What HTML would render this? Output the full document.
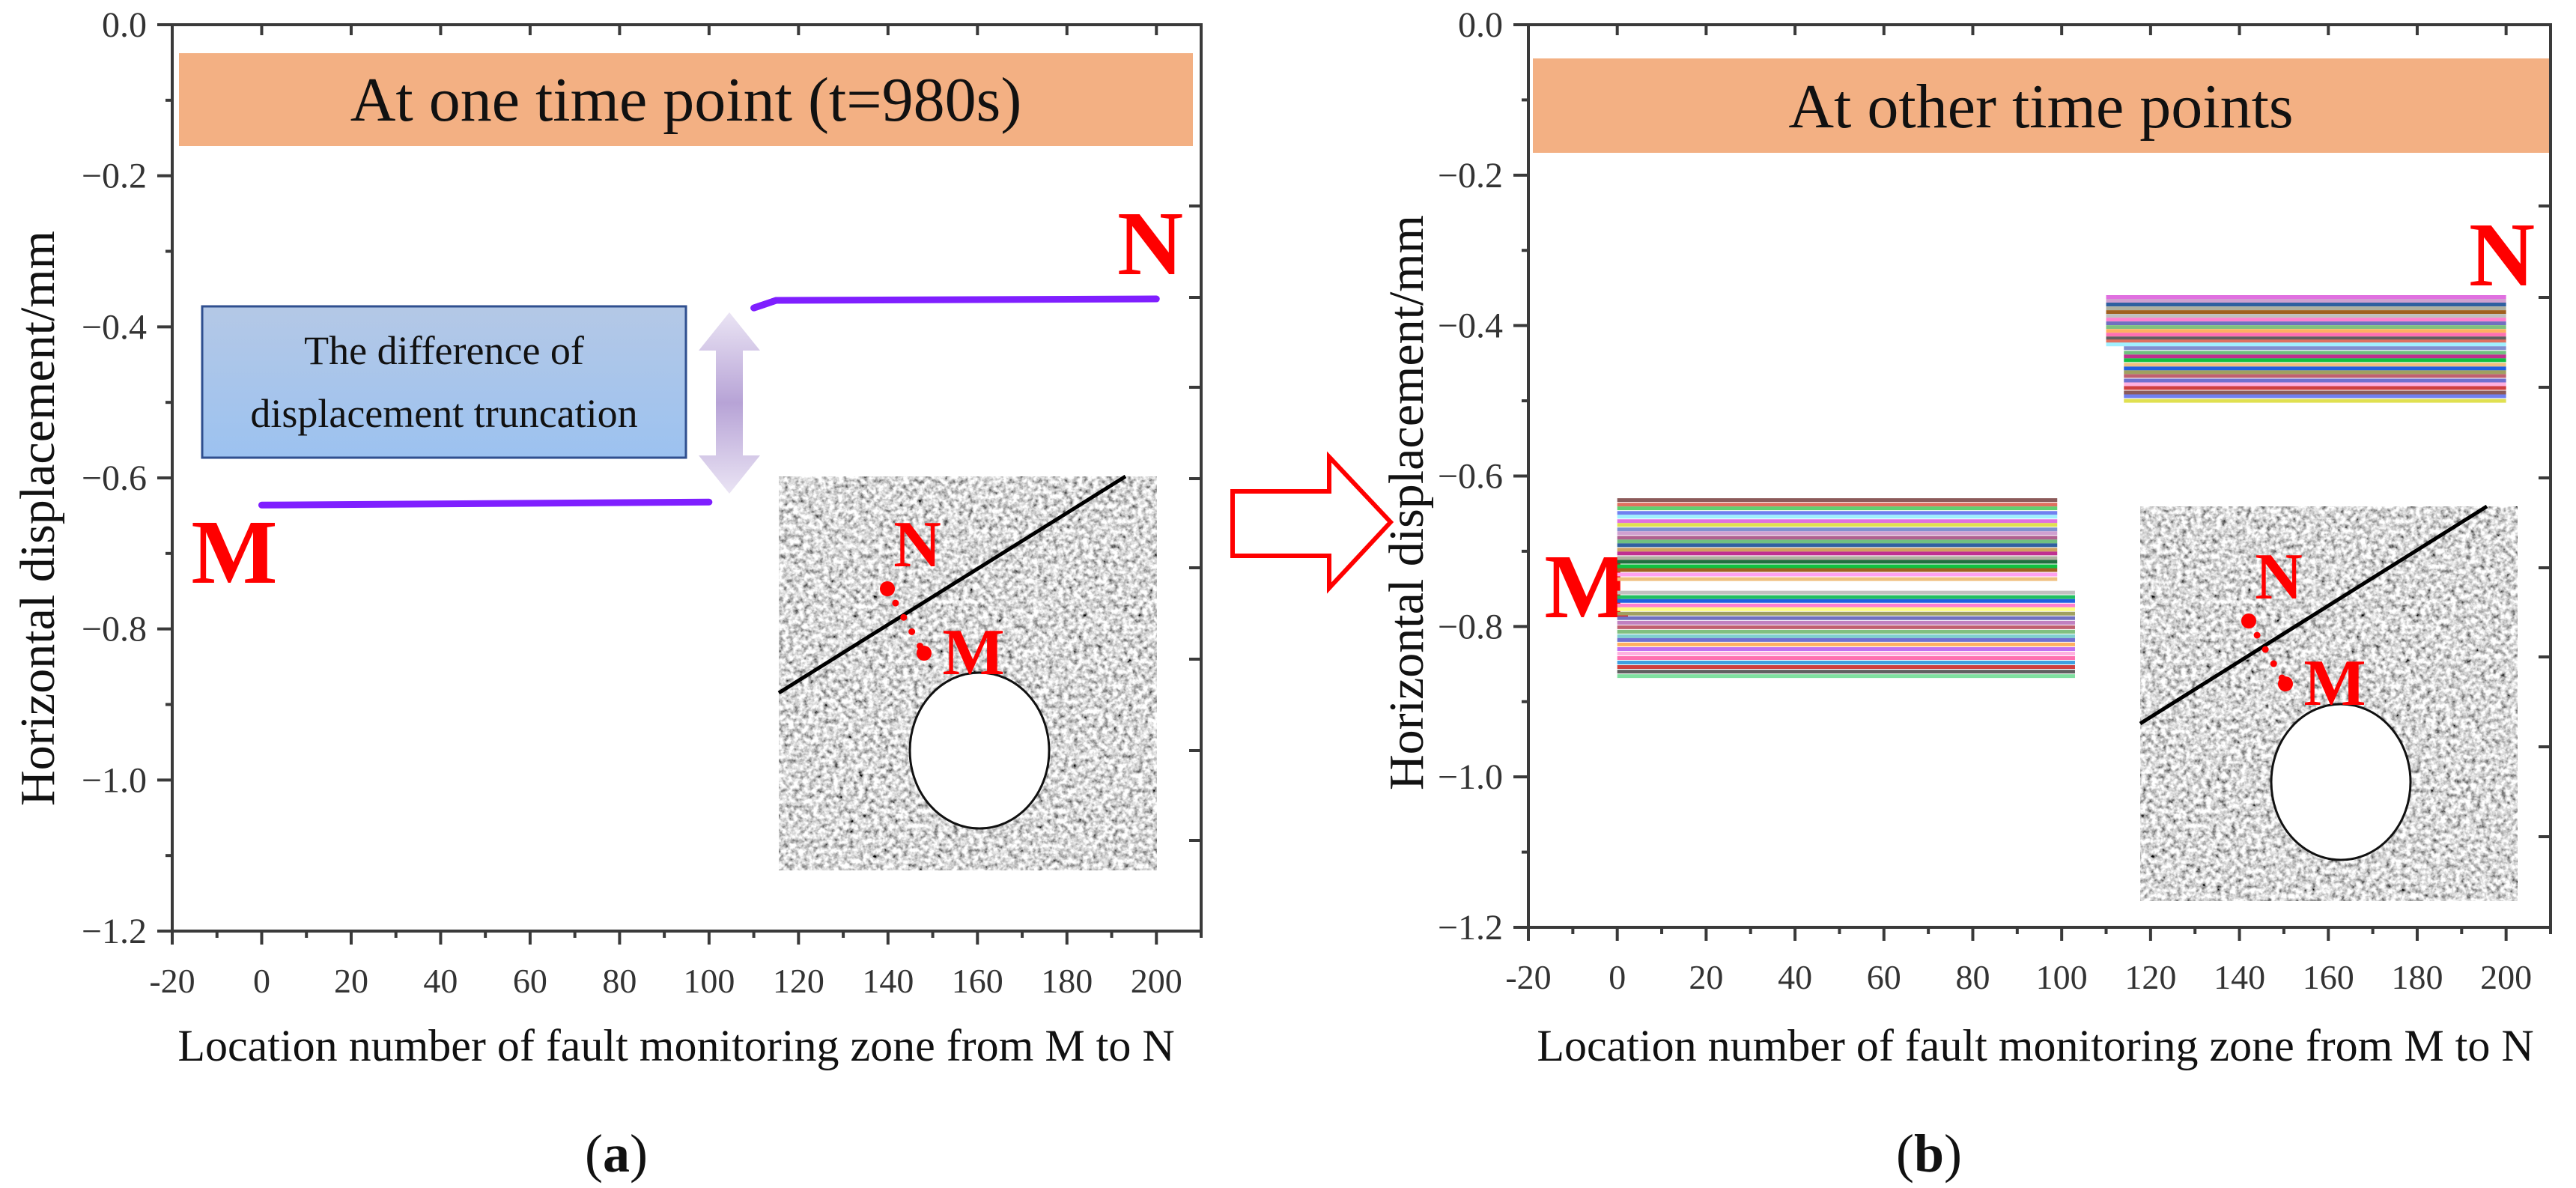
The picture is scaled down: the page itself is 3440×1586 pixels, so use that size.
<!DOCTYPE html>
<html><head><meta charset="utf-8"><style>
html,body{margin:0;padding:0;background:#fff;}
svg{display:block;font-family:"Liberation Serif","Noto Serif CJK SC","DejaVu Serif",serif;}
text,tspan{font-family:"Liberation Serif","Noto Serif CJK SC","DejaVu Serif",serif;}
</style></head><body>
<svg id="s" width="3440" height="1586" viewBox="0 0 3440 1586" xmlns="http://www.w3.org/2000/svg">
<defs>
<filter id="noise" x="0" y="0" width="100%" height="100%">
<feTurbulence type="fractalNoise" baseFrequency="0.15" numOctaves="3" seed="4"/>
<feColorMatrix type="saturate" values="0"/>
<feComponentTransfer><feFuncR type="linear" slope="2.4" intercept="-0.5"/><feFuncG type="linear" slope="2.4" intercept="-0.5"/><feFuncB type="linear" slope="2.4" intercept="-0.5"/><feFuncA type="linear" slope="0" intercept="1"/></feComponentTransfer>
</filter>
<linearGradient id="boxg" x1="0" y1="0" x2="0" y2="1"><stop offset="0" stop-color="#b4c8e6"/><stop offset="1" stop-color="#9cc2f0"/></linearGradient>
<linearGradient id="arrg" x1="0" y1="0" x2="0" y2="1"><stop offset="0" stop-color="#eae4f4"/><stop offset="0.5" stop-color="#b7a3d6"/><stop offset="1" stop-color="#eae4f4"/></linearGradient>
</defs>
<g id="root"></g>
</svg>
<script>
// Panel (a) data
const aCategoriesX = [0, 100, 110, 115, 200];
const aValues = [-0.636, -0.632, -0.375, -0.365, -0.363];
// Panel (b) data
const bLeftValues = [-0.632,-0.638,-0.643,-0.649,-0.654,-0.660,-0.665,-0.671,-0.676,-0.682,-0.687,-0.692,-0.698,-0.703,-0.709,-0.714,-0.720,-0.725,-0.731,-0.737,-0.755,-0.761,-0.766,-0.772,-0.777,-0.783,-0.789,-0.795,-0.801,-0.807,-0.813,-0.818,-0.824,-0.830,-0.836,-0.842,-0.848,-0.854,-0.860,-0.866];
const bLeftEnds = [99,99,99,99,99,99,99,99,99,99,99,99,99,99,99,99,99,99,99,99,103,103,103,103,103,103,103,103,103,103,103,103,103,103,103,103,103,103,103,103];
const bRightValues = [-0.362,-0.367,-0.372,-0.377,-0.382,-0.387,-0.392,-0.397,-0.402,-0.407,-0.412,-0.417,-0.421,-0.425,-0.430,-0.436,-0.441,-0.446,-0.452,-0.457,-0.462,-0.467,-0.473,-0.478,-0.483,-0.489,-0.494,-0.500];
const bRightStarts = [110,110,110,110,110,110,110,110,110,110,110,110,110,110,114,114,114,114,114,114,114,114,114,114,114,114,114,114];
const xTicks = [-20,0,20,40,60,80,100,120,140,160,180,200];
const yTicks = [0,-0.2,-0.4,-0.6,-0.8,-1.0,-1.2];
const yTickLabels = ["0.0","\u22120.2","\u22120.4","\u22120.6","\u22120.8","\u22121.0","\u22121.2"];
const palette = ["#8b5a5a","#e07060","#60d070","#7080f0","#a0f0ff","#e070e0","#e0e050","#8090d0","#d0a0d0","#b06090","#70c080","#3060a0","#d0a060","#c03090","#b0b0a0","#207040","#10c040","#a06020","#ffa0f0","#f0c080","#c0c0c0","#20c060","#2060e0","#ff80d0","#ffff80","#a0a060","#7070c0","#c080c0","#c06070","#80c080","#80d0d0","#7070d0","#ffb060","#c070f0","#ffb0e0","#ff70b0","#40a0e0","#d04040","#606060","#80e0a0"];

const NS="http://www.w3.org/2000/svg";
const root=document.getElementById('root');
function el(tag,attrs,parent,text){const e=document.createElementNS(NS,tag);for(const k in attrs)e.setAttribute(k,attrs[k]);if(text!==undefined)e.textContent=text;(parent||root).appendChild(e);return e;}

function makePanel(P){
  const g=el('g',{});
  
  
  const X=v=>P.L+(v+20)/230*(P.R-P.L);
  const Y=v=>P.T+(-v)/1.2*(P.B-P.T);
  P.X=X;P.Y=Y;
  const ban=el('rect',{x:P.ban[0],y:P.ban[1],width:P.ban[2]-P.ban[0],height:P.ban[3]-P.ban[1],fill:'#f3b083'},g);
  
  
  const bt=el('text',{x:(P.ban[0]+P.ban[2])/2,y:P.ban[3]-34,'font-size':84,'text-anchor':'middle',fill:'#111'},g,P.title);
  
  
  const ax=el('g',{stroke:'#3a3a3a','stroke-width':4,fill:'none'},g);
  
  
  el('rect',{x:P.L,y:P.T,width:P.R-P.L,height:P.B-P.T},ax);
  xTicks.forEach((t,i)=>{
    const x=X(t);
    el('line',{x1:x,y1:P.B,x2:x,y2:P.B+18},ax);
    el('line',{x1:x,y1:P.T,x2:x,y2:P.T+14},ax);
    const m=X(t+10);
    if(t+10<=210){el('line',{x1:m,y1:P.B,x2:m,y2:P.B+9},ax);}
    const lbl=el('text',{x:x,y:P.B+82,'font-size':46,'text-anchor':'middle',fill:'#333',stroke:'none'},g,String(t));
    
    
  });
  yTicks.forEach((t,i)=>{
    const y=Y(t);
    el('line',{x1:P.L-20,y1:y,x2:P.L,y2:y},ax);
    if(i<yTicks.length-1){const m=Y(t-0.1);el('line',{x1:P.L-9,y1:m,x2:P.L,y2:m},ax);}
    const lbl=el('text',{x:P.L-34,y:y+16,'font-size':48,'text-anchor':'end',fill:'#333',stroke:'none'},g,yTickLabels[i]);
    
    
  });
  P.rticks.forEach(y=>el('line',{x1:P.R-16,y1:y,x2:P.R,y2:y},ax));
  const yt=el('text',{x:0,y:0,'font-size':66,'text-anchor':'middle',fill:'#111',transform:`translate(${P.ytx},${P.yty}) rotate(-90)`},g,'Horizontal displacement/mm');
  
  
  const xt=el('text',{x:P.xtx,y:1416,'font-size':60,'text-anchor':'middle',fill:'#111'},g,'Location number of fault monitoring zone from M to N');
  
  
  const pl=el('text',{x:P.plx,y:1564,'font-size':72,'text-anchor':'middle',fill:'#111'},g);
  
  
  el('tspan',{},pl,'(');el('tspan',{'font-weight':'bold'},pl,P.letter);el('tspan',{},pl,')');
  const ml=el('text',{x:P.M[0],y:P.M[1],'font-size':122,'font-weight':'bold',fill:'#ff0000','text-anchor':'middle'},g,'M');
  
  
  const nl=el('text',{x:P.N[0],y:P.N[1],'font-size':122,'font-weight':'bold',fill:'#ff0000','text-anchor':'middle'},g,'N');
  
  
  const ins=el('g',{},g);
  
  
  const I=P.ins;
  el('rect',{x:I[0],y:I[1],width:I[2]-I[0],height:I[3]-I[1],fill:'#999',filter:'url(#noise)'},ins);
  el('ellipse',{cx:I[4],cy:I[5],rx:93,ry:104,fill:'#fff',stroke:'#111','stroke-width':3},ins);
  el('line',{x1:I[0],y1:I[6],x2:I[7],y2:I[1],stroke:'#000','stroke-width':5},ins);
  el('line',{x1:I[8],y1:I[9],x2:I[10],y2:I[11],stroke:'#f00','stroke-width':9,'stroke-dasharray':'0 22','stroke-linecap':'round'},ins);
  el('circle',{cx:I[8],cy:I[9],r:10,fill:'#f00'},ins);
  el('circle',{cx:I[10],cy:I[11],r:10,fill:'#f00'},ins);
  el('text',{x:I[8]+40,y:I[9]-30,'font-size':88,'font-weight':'bold',fill:'#f00','text-anchor':'middle'},ins,'N');
  el('text',{x:I[10]+66,y:I[11]+28,'font-size':88,'font-weight':'bold',fill:'#f00','text-anchor':'middle'},ins,'M');
  return g;
}

const A={id:'panel-a',L:230,R:1604,T:33,B:1243,ban:[239,71,1593,195],title:'At one time point (t=980s)',
  rticks:[275,397,517,639,758,880,1002,1122],ytx:72,yty:692,xtx:903,plx:823,letter:'a',
  M:[313,778],N:[1536,366],ins:[1040,636,1545,1162,1308,1002,925,1503,1185,786,1234,872]};
const B={id:'panel-b',L:2041,R:3406,T:33,B:1238,ban:[2047,78,3404,204],title:'At other time points',
  rticks:[275,397,517,638,758,877,997,1117],ytx:1900,yty:671,xtx:2718,plx:2576,letter:'b',
  M:[2120,824],N:[3341,381],ins:[2858,676,3362,1203,3126,1044,966,3321,3003,829,3052,913]};

const ga=makePanel(A);
const box=el('g',{});


el('rect',{x:270,y:409,width:646,height:202,fill:'url(#boxg)',stroke:'#2f4f8f','stroke-width':3},box);
el('text',{x:593,y:486,'font-size':54,'text-anchor':'middle',fill:'#111'},box,'The difference of');
el('text',{x:593,y:570,'font-size':54,'text-anchor':'middle',fill:'#111'},box,'displacement truncation');
const da=el('path',{d:'M974,417 L1015,468 L992,468 L992,608 L1015,608 L974,659 L933,608 L956,608 L956,468 L933,468 Z',fill:'url(#arrg)'});


let d='';
aCategoriesX.forEach((x,i)=>{ if(i===2){d+=` M${A.X(x)},${A.Y(aValues[i])}`;} else d+=(i===0?'M':' L')+A.X(x)+','+A.Y(aValues[i]);});
const sa=el('path',{d:d,stroke:'#7f1fff','stroke-width':9,fill:'none','stroke-linecap':'round'});


const st=el('line',{x1:A.X(aCategoriesX[2]),y1:A.Y(aValues[2]),x2:A.X(aCategoriesX[3]),y2:A.Y(aValues[3]),stroke:'#7f1fff','stroke-width':9});



const gb=makePanel(B);
const lines=el('g',{'stroke-width':5});


bLeftValues.forEach((v,i)=>{
  const l=el('line',{x1:B.X(0),y1:B.Y(v),x2:B.X(bLeftEnds[i]),y2:B.Y(v),stroke:palette[i%palette.length]},lines);
  
  
});
bRightValues.forEach((v,i)=>{
  const l=el('line',{x1:B.X(bRightStarts[i]),y1:B.Y(v),x2:B.X(200),y2:B.Y(v),stroke:palette[(i*3+5)%palette.length]},lines);
  
  
});
const ha=el('path',{d:'M1646,656 L1775,656 L1775,610 L1857,697 L1775,785 L1775,742 L1646,742 Z',fill:'#fff',stroke:'#ff0000','stroke-width':6});


</script>
</body></html>
